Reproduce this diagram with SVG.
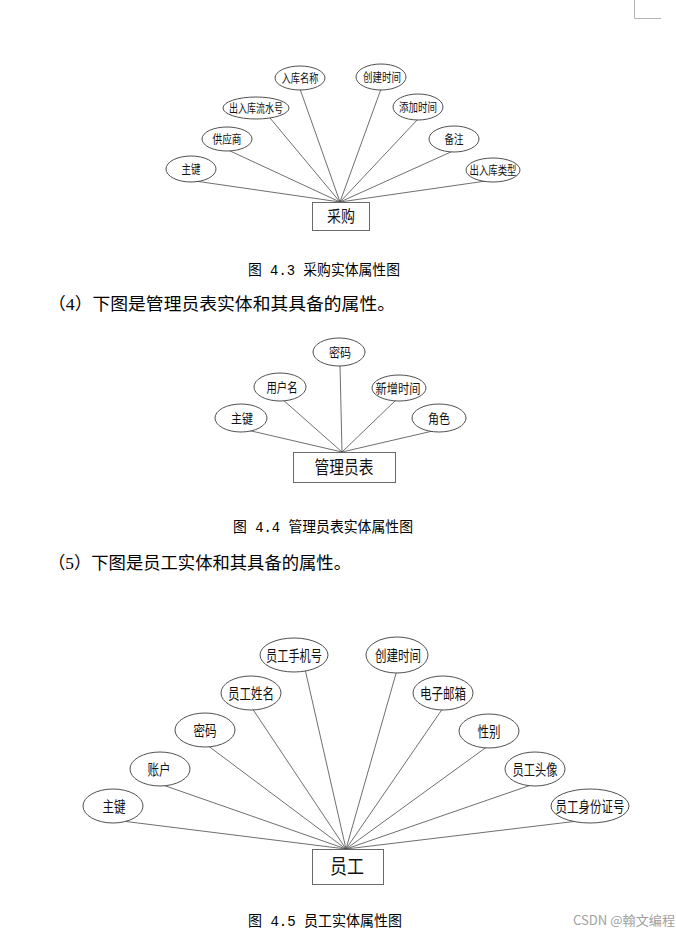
<svg xmlns="http://www.w3.org/2000/svg" width="676" height="936" viewBox="0 0 676 936">
<style>
.bg{fill:#ffffff}
.ln{stroke:#4a4a4a;stroke-width:0.8;fill:none}
.el{fill:#ffffff;stroke:#3c3c3c;stroke-width:0.9}
.bx{fill:#ffffff;stroke:#6a6a6a;stroke-width:1}
.lb{font-family:"Noto Sans CJK SC","Noto Sans",sans-serif;fill:#111;text-anchor:middle}
.s1{font-size:12px}
.s2{font-size:13px}
.s3{font-size:15px}
.body{font-family:"Liberation Serif","Noto Sans CJK SC",serif;font-size:17px;fill:#000}
.cap{font-family:"Liberation Mono","Noto Sans CJK SC",monospace;font-size:14.5px;fill:#000}
.mark{stroke:#b5b5b5;stroke-width:1;fill:none}
</style>
<rect class="bg" x="0" y="0" width="676" height="936"/>
<path class="mark" d="M634.5 0 V18.5 H661"/>

<g id="connectors">
  <!-- 采购 -->
  <line class="ln" x1="195" y1="181" x2="340" y2="202"/>
  <line class="ln" x1="228" y1="150" x2="340" y2="202"/>
  <line class="ln" x1="270" y1="118" x2="340" y2="202"/>
  <line class="ln" x1="300" y1="89" x2="340" y2="202"/>
  <line class="ln" x1="381" y1="89" x2="340" y2="202"/>
  <line class="ln" x1="418" y1="119" x2="340" y2="202"/>
  <line class="ln" x1="453" y1="151" x2="340" y2="202"/>
  <line class="ln" x1="486" y1="181" x2="340" y2="202"/>
  <!-- 管理员表 -->
  <line class="ln" x1="247" y1="430" x2="342" y2="452"/>
  <line class="ln" x1="282" y1="399" x2="342" y2="452"/>
  <line class="ln" x1="340" y1="365" x2="342" y2="452"/>
  <line class="ln" x1="397" y1="399" x2="342" y2="452"/>
  <line class="ln" x1="437" y1="430" x2="342" y2="452"/>
  <!-- 员工 -->
  <line class="ln" x1="122" y1="821" x2="346" y2="849"/>
  <line class="ln" x1="160" y1="784" x2="346" y2="849"/>
  <line class="ln" x1="207" y1="745" x2="346" y2="849"/>
  <line class="ln" x1="252" y1="708" x2="346" y2="849"/>
  <line class="ln" x1="305" y1="669" x2="346" y2="849"/>
  <line class="ln" x1="397" y1="670" x2="346" y2="849"/>
  <line class="ln" x1="443" y1="708" x2="346" y2="849"/>
  <line class="ln" x1="488" y1="746" x2="346" y2="849"/>
  <line class="ln" x1="534" y1="784" x2="346" y2="849"/>
  <line class="ln" x1="578" y1="821" x2="346" y2="849"/>
</g>

<!-- 采购 entity -->
<g id="caigou">
  <rect class="bx" x="312.5" y="202.5" width="57" height="28"/>
  <text class="lb" x="341" y="222" font-size="16" textLength="28" lengthAdjust="spacingAndGlyphs">采购</text>
</g>
<g id="cg-zhujian"><ellipse class="el" cx="191" cy="169" rx="25" ry="13"/><text class="lb s1" x="191" y="173.5" textLength="19" lengthAdjust="spacingAndGlyphs">主键</text></g>
<g id="cg-gongyingshang"><ellipse class="el" cx="227" cy="139" rx="25" ry="12"/><text class="lb s1" x="227" y="143.5" textLength="29" lengthAdjust="spacingAndGlyphs">供应商</text></g>
<g id="cg-liushuihao"><ellipse class="el" cx="256" cy="108" rx="33" ry="11"/><text class="lb s1" x="256" y="112.5" textLength="54" lengthAdjust="spacingAndGlyphs">出入库流水号</text></g>
<g id="cg-rukumingcheng"><ellipse class="el" cx="300" cy="78" rx="25" ry="12"/><text class="lb s1" x="300" y="82.5" textLength="37" lengthAdjust="spacingAndGlyphs">入库名称</text></g>
<g id="cg-chuangjian"><ellipse class="el" cx="381" cy="77" rx="25" ry="13"/><text class="lb s1" x="382" y="81.5" textLength="38" lengthAdjust="spacingAndGlyphs">创建时间</text></g>
<g id="cg-tianjia"><ellipse class="el" cx="418" cy="107" rx="25" ry="13"/><text class="lb s1" x="418" y="111.5" textLength="38" lengthAdjust="spacingAndGlyphs">添加时间</text></g>
<g id="cg-beizhu"><ellipse class="el" cx="454" cy="139" rx="25" ry="13"/><text class="lb s1" x="454" y="143.5" textLength="19" lengthAdjust="spacingAndGlyphs">备注</text></g>
<g id="cg-leixing"><ellipse class="el" cx="493" cy="170" rx="27" ry="12"/><text class="lb s1" x="493" y="174.5" textLength="47" lengthAdjust="spacingAndGlyphs">出入库类型</text></g>

<text class="cap" x="248" y="275" textLength="152" lengthAdjust="spacingAndGlyphs">图 4.3 采购实体属性图</text>
<text class="body" x="48" y="310" textLength="347" lengthAdjust="spacingAndGlyphs">（4）下图是管理员表实体和其具备的属性。</text>

<!-- 管理员表 entity -->
<g id="guanliyuan">
  <rect class="bx" x="293.5" y="452.5" width="102" height="30"/>
  <text class="lb" x="344" y="474" font-size="18" textLength="59" lengthAdjust="spacingAndGlyphs">管理员表</text>
</g>
<g id="gl-zhujian"><ellipse class="el" cx="241" cy="418" rx="26" ry="14"/><text class="lb s2" x="242" y="422.5" textLength="22" lengthAdjust="spacingAndGlyphs">主键</text></g>
<g id="gl-yonghuming"><ellipse class="el" cx="280" cy="387" rx="26" ry="14"/><text class="lb s2" x="282" y="391.5" textLength="31" lengthAdjust="spacingAndGlyphs">用户名</text></g>
<g id="gl-mima"><ellipse class="el" cx="339" cy="352" rx="26" ry="14"/><text class="lb s2" x="340" y="356.5" textLength="22" lengthAdjust="spacingAndGlyphs">密码</text></g>
<g id="gl-xinzeng"><ellipse class="el" cx="399" cy="388" rx="27" ry="13"/><text class="lb s2" x="398" y="392.5" textLength="45" lengthAdjust="spacingAndGlyphs">新增时间</text></g>
<g id="gl-juese"><ellipse class="el" cx="439" cy="418" rx="27" ry="14"/><text class="lb s2" x="439" y="422.5" textLength="22" lengthAdjust="spacingAndGlyphs">角色</text></g>

<text class="cap" x="233" y="532" textLength="180" lengthAdjust="spacingAndGlyphs">图 4.4 管理员表实体属性图</text>
<text class="body" x="48" y="569" textLength="303" lengthAdjust="spacingAndGlyphs">（5）下图是员工实体和其具备的属性。</text>

<!-- 员工 entity -->
<g id="yuangong">
  <rect class="bx" x="312.5" y="849.5" width="71" height="35"/>
  <text class="lb" x="347" y="874" font-size="20" textLength="34" lengthAdjust="spacingAndGlyphs">员工</text>
</g>
<g id="yg-zhujian"><ellipse class="el" cx="113" cy="806" rx="30" ry="17"/><text class="lb s3" x="114" y="811.5" textLength="23" lengthAdjust="spacingAndGlyphs">主键</text></g>
<g id="yg-zhanghu"><ellipse class="el" cx="160" cy="769" rx="30" ry="17"/><text class="lb s3" x="159" y="774.5" textLength="23" lengthAdjust="spacingAndGlyphs">账户</text></g>
<g id="yg-mima"><ellipse class="el" cx="205" cy="730" rx="30" ry="17"/><text class="lb s3" x="205" y="735.5" textLength="23" lengthAdjust="spacingAndGlyphs">密码</text></g>
<g id="yg-xingming"><ellipse class="el" cx="251" cy="693" rx="30" ry="17"/><text class="lb s3" x="251" y="698.5" textLength="46" lengthAdjust="spacingAndGlyphs">员工姓名</text></g>
<g id="yg-shouji"><ellipse class="el" cx="294" cy="655" rx="34" ry="17"/><text class="lb s3" x="294" y="660.5" textLength="56" lengthAdjust="spacingAndGlyphs">员工手机号</text></g>
<g id="yg-chuangjian"><ellipse class="el" cx="397" cy="655" rx="31" ry="18"/><text class="lb s3" x="398" y="660.5" textLength="46" lengthAdjust="spacingAndGlyphs">创建时间</text></g>
<g id="yg-youxiang"><ellipse class="el" cx="443" cy="693" rx="30" ry="17"/><text class="lb s3" x="443" y="698.5" textLength="46" lengthAdjust="spacingAndGlyphs">电子邮箱</text></g>
<g id="yg-xingbie"><ellipse class="el" cx="489" cy="731" rx="30" ry="17"/><text class="lb s3" x="489" y="736.5" textLength="23" lengthAdjust="spacingAndGlyphs">性别</text></g>
<g id="yg-touxiang"><ellipse class="el" cx="535" cy="769" rx="30" ry="17"/><text class="lb s3" x="535" y="774.5" textLength="45" lengthAdjust="spacingAndGlyphs">员工头像</text></g>
<g id="yg-shenfenzheng"><ellipse class="el" cx="590" cy="806" rx="39" ry="17"/><text class="lb s3" x="590" y="811.5" textLength="69" lengthAdjust="spacingAndGlyphs">员工身份证号</text></g>

<text class="cap" x="248" y="926" textLength="154" lengthAdjust="spacingAndGlyphs">图 4.5 员工实体属性图</text>
<text x="573" y="925" font-family="'Noto Sans CJK SC','Noto Sans',sans-serif" font-size="13px" fill="#a0a0a0" textLength="102" lengthAdjust="spacingAndGlyphs">CSDN @翰文编程</text>
</svg>
